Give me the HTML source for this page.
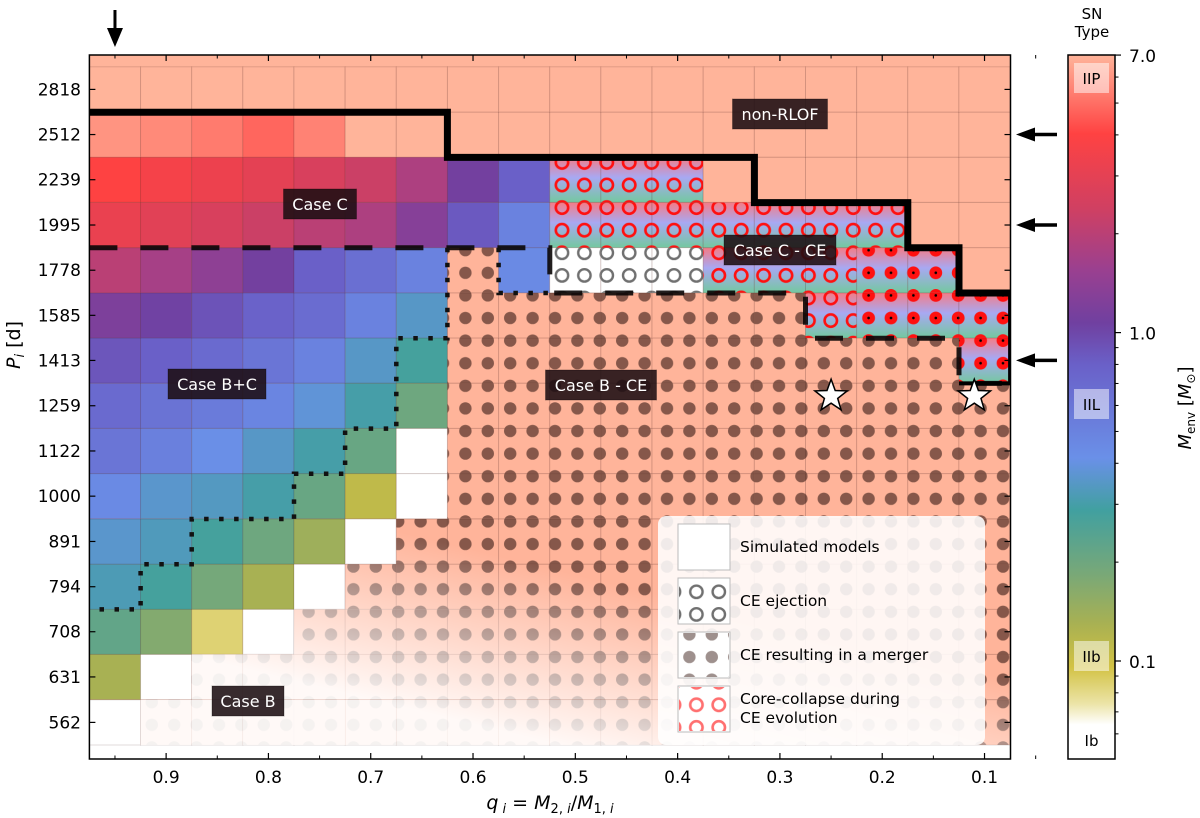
<!DOCTYPE html>
<html><head><meta charset="utf-8">
<style>
html,body{margin:0;padding:0;background:#fff;}
svg{display:block;font-family:"DejaVu Sans","Liberation Sans",sans-serif;}
</style></head>
<body>
<svg id="chart" width="1200" height="818" viewBox="0 0 1200 818" xmlns="http://www.w3.org/2000/svg">
<defs>
  <pattern id="dotsPat" patternUnits="userSpaceOnUse" x="543.8" y="306.7" width="22.4" height="22.6">
    <circle cx="11.2" cy="11.3" r="6.2" fill="rgba(60,30,25,0.62)"/>
  </pattern>
  <pattern id="redCircPat" patternUnits="userSpaceOnUse" x="550.8" y="173.7" width="22.4" height="22.6">
    <circle cx="11.2" cy="11.3" r="6.2" fill="none" stroke="#ff1010" stroke-width="2.6"/>
  </pattern>
  <pattern id="greyCircPat" patternUnits="userSpaceOnUse" x="550.8" y="173.7" width="22.4" height="22.6">
    <circle cx="11.2" cy="11.3" r="6.2" fill="none" stroke="#707070" stroke-width="2.4"/>
  </pattern>
  <pattern id="redDotPat" patternUnits="userSpaceOnUse" x="543.8" y="306.7" width="22.4" height="22.6">
    <circle cx="11.2" cy="11.3" r="6.4" fill="#ff1010"/>
    <circle cx="11.2" cy="11.3" r="1.3" fill="#000"/>
  </pattern>
  <linearGradient id="ceGrad" x1="0" y1="0" x2="0" y2="1">
    <stop offset="0" stop-color="#f47c86"/>
    <stop offset="0.45" stop-color="#a8a8f2"/>
    <stop offset="1" stop-color="#74c8a0"/>
  </linearGradient>
  <linearGradient id="fadeGrad" gradientUnits="userSpaceOnUse" x1="600" y1="580" x2="560" y2="745">
    <stop offset="0" stop-color="#fff" stop-opacity="0"/>
    <stop offset="1" stop-color="#fff" stop-opacity="0.92"/>
  </linearGradient>
  <linearGradient id="cbarGrad" gradientUnits="userSpaceOnUse" x1="0" y1="55" x2="0" y2="759"></linearGradient>
  <clipPath id="plotClip"><rect x="89.4" y="55" width="921.1" height="704"/></clipPath>
</defs>
<g id="plot" clip-path="url(#plotClip)"></g>
<g id="overlay"></g>
</svg>
<script>
// ---------- DATA ----------
const periods = [562, 631, 708, 794, 891, 1000, 1122, 1259, 1413, 1585, 1778, 1995, 2239, 2512, 2818];
const qVals = [0.95, 0.90, 0.85, 0.80, 0.75, 0.70, 0.65, 0.60, 0.55, 0.50, 0.45, 0.40, 0.35, 0.30, 0.25, 0.20, 0.15, 0.10];
const xTickLabels = ["0.9", "0.8", "0.7", "0.6", "0.5", "0.4", "0.3", "0.2", "0.1"];
// outcome per cell (row 0 = 562 d): c=coloured by M_env, n=non-RLOF, m=CE merger,
// e=CE ejection, r=core-collapse during CE, d=core-collapse during CE (merger)
const outcomes = [
  "cmmmmmmmmmmmmmmmmm",
  "ccmmmmmmmmmmmmmmmm",
  "ccccmmmmmmmmmmmmmm",
  "cccccmmmmmmmmmmmmm",
  "ccccccmmmmmmmmmmmm",
  "cccccccmmmmmmmmmmm",
  "cccccccmmmmmmmmmmm",
  "cccccccmmmmmmmmmmm",
  "cccccccmmmmmmmmmmd",
  "cccccccmmmmmmmrddd",
  "cccccccmceeerrrddn",
  "cccccccccrrrrrrrnn",
  "cccccccccrrrnnnnnn",
  "cccccccnnnnnnnnnnn",
  "nnnnnnnnnnnnnnnnnn"
];
// envelope mass [Msun] for coloured cells
const menv = [
  [0.05],
  [0.13, 0.05],
  [0.22, 0.17, 0.085, 0.05],
  [0.32, 0.28, 0.19, 0.13, 0.05],
  [0.36, 0.33, 0.28, 0.2, 0.14, 0.05],
  [0.45, 0.36, 0.34, 0.3, 0.21, 0.11, 0.05],
  [0.6, 0.52, 0.42, 0.35, 0.3, 0.21, 0.05],
  [0.7, 0.62, 0.55, 0.48, 0.38, 0.3, 0.2],
  [0.88, 0.8, 0.7, 0.6, 0.5, 0.35, 0.28],
  [1.2, 1.05, 0.9, 0.78, 0.68, 0.5, 0.35],
  [2.0, 1.7, 1.4, 1.1, 0.8, 0.65, 0.5, null, 0.45],
  [3.2, 2.9, 2.6, 2.3, 2.0, 1.8, 1.3, 0.85, 0.5],
  [4.0, 3.6, 3.3, 3.0, 2.6, 2.3, 1.8, 1.1, 0.8],
  [6.0, 5.7, 5.3, 4.8, 5.5, 7.0, 7.0],
  []
];
const salmonValue = 7.0;
const cmapValues = [0.05, 0.064, 0.074, 0.096, 0.129, 0.185, 0.288, 0.415, 0.80, 1.07, 1.55, 2.39, 4.03, 7.0];
const cmapColors = ["#ffffff", "#ffffff", "#ece4a8", "#d2c244", "#a9b152", "#78a878", "#41a0a0", "#6a90e8", "#6a60c8", "#7040a0", "#9a4090", "#d04062", "#ff4242", "#ffb49a"];
const cbarMajor = [0.1, 1.0, 7.0];
const cbarMajorLabels = ["0.1", "1.0", "7.0"];
const cbarMinor = [0.06, 0.07, 0.08, 0.09, 0.2, 0.3, 0.4, 0.5, 0.6, 0.7, 0.8, 0.9, 2, 3, 4, 5, 6];
const starPoints = [[0.25, 1290], [0.11, 1290]];
const arrowPeriods = [2512, 1995, 1413];
const arrowQ = 0.95;

// ---------- AXES ----------
const L = 89.4, R = 1010.5, T = 55, B = 759;
const lp0 = Math.log10(periods[0]);
function X(q) { return L + (0.975 - q) * 1023; }
function Y(p) { return 722.4 - 904 * (Math.log10(p) - lp0); }
function YL(lp) { return 722.4 - 904 * (lp - lp0); }
function colEdge(k) { return X(qVals[0] + 0.025 - 0.05 * k); }
function rowEdge(j) { return YL(lp0 - 0.025 + 0.05 * j); }
const cbL = 1068, cbR = 1115;
function YC(v) { return 661 - 328.4 * (Math.log10(v) + 1); }

function hex2rgb(h) { return [1,3,5].map(i => parseInt(h.substr(i,2),16)); }
function cmap(v) {
  const lv = Math.log10(v);
  if (v <= cmapValues[0]) return cmapColors[0];
  for (let i = 1; i < cmapValues.length; i++) {
    if (v <= cmapValues[i]) {
      const a = Math.log10(cmapValues[i-1]), b = Math.log10(cmapValues[i]);
      const t = (lv - a) / (b - a);
      const c1 = hex2rgb(cmapColors[i-1]), c2 = hex2rgb(cmapColors[i]);
      const c = c1.map((x, k) => Math.round(x + (c2[k] - x) * t));
      return "rgb(" + c.join(",") + ")";
    }
  }
  return cmapColors[cmapColors.length - 1];
}

const NS = "http://www.w3.org/2000/svg";
function mk(tag, attrs, parent) {
  const e = document.createElementNS(NS, tag);
  for (const k in attrs) e.setAttribute(k, attrs[k]);
  parent.appendChild(e);
  return e;
}
const svg = document.getElementById("chart");
const plot = document.getElementById("plot");
const over = document.getElementById("overlay");

// background (non-RLOF above grid)
const bg = mk("rect", {x: L, y: T, width: R - L, height: B - T, fill: cmap(salmonValue)}, plot);


mk("rect", {x: L, y: rowEdge(0), width: R - L, height: B - rowEdge(0), fill: "#fff"}, plot);

// cells
const fadeCells = [];
for (let r = 0; r < periods.length; r++) {
  const lp = Math.log10(periods[r]);
  for (let c = 0; c < qVals.length; c++) {
    const t = outcomes[r][c];
    const x0 = X(qVals[c] + 0.025), x1 = X(qVals[c] - 0.025);
    const y0 = YL(lp + 0.025), y1 = YL(lp - 0.025);
    let fill;
    if (t === 'c') fill = cmap(menv[r][c]);
    else if (t === 'e') fill = "#ffffff";
    else if (t === 'r' || t === 'd') fill = "url(#ceGrad)";
    else fill = cmap(salmonValue);
    const cell = mk("rect", {x: x0, y: y0, width: x1 - x0, height: y1 - y0, fill: fill, stroke: "rgba(70,30,30,0.16)", "stroke-width": 1}, plot);
    
    
    let pat = null;
    if (t === 'm') pat = "url(#dotsPat)";
    if (t === 'e') pat = "url(#greyCircPat)";
    if (t === 'r') pat = "url(#redCircPat)";
    if (t === 'd') pat = "url(#redDotPat)";
    if (pat) mk("rect", {x: x0, y: y0, width: x1 - x0, height: y1 - y0, fill: pat}, plot);
    if (t === 'm') fadeCells.push([x0, y0, x1 - x0, y1 - y0]);
  }
}
fadeCells.forEach(f => mk("rect", {x: f[0], y: f[1], width: f[2], height: f[3], fill: "url(#fadeGrad)"}, plot));

// boundaries (cell-edge index paths)
function edgePath(pts) {
  return pts.map((p, i) => (i ? "L" : "M") + colEdge(p[0]).toFixed(1) + " " + rowEdge(p[1]).toFixed(1)).join(" ");
}
const rlof = mk("path", {d: edgePath([[0,14],[7,14],[7,13],[13,13],[13,12],[16,12],[16,11],[17,11],[17,10],[18.2,10]]), fill: "none", stroke: "#000", "stroke-width": 7}, plot);


const dashed = mk("path", {d: edgePath([[0,11],[9,11],[9,10],[14,10],[14,9],[17,9],[17,8],[18.2,8]]), fill: "none", stroke: "rgba(10,5,5,0.9)", "stroke-width": 5, "stroke-dasharray": "28 23"}, plot);


mk("path", {d: edgePath([[17,10],[18,10],[18,8],[17,8]]), fill: "none", stroke: "#000", "stroke-width": 4}, plot);
const dotted1 = mk("path", {d: edgePath([[7,11],[7,9],[6,9],[6,7],[5,7],[5,6],[4,6],[4,5],[2,5],[2,4],[1,4],[1,3],[0,3]]), fill: "none", stroke: "#111", "stroke-width": 4.5, "stroke-dasharray": "4.5 10.5"}, plot);


mk("path", {d: edgePath([[8,11],[8,10],[9,10]]), fill: "none", stroke: "#111", "stroke-width": 4.5, "stroke-dasharray": "4.5 10.5"}, plot);

// stars
function starD(cx, cy, ro, ri) {
  let d = "";
  for (let i = 0; i < 10; i++) {
    const a = -Math.PI / 2 + i * Math.PI / 5, rr = i % 2 ? ri : ro;
    d += (i ? "L" : "M") + (cx + rr * Math.cos(a)).toFixed(1) + " " + (cy + rr * Math.sin(a)).toFixed(1);
  }
  return d + "Z";
}
starPoints.forEach((s, i) => {
  const st = mk("path", {d: starD(X(s[0]), Y(s[1]), 17, 7), fill: "#fff", stroke: "#000", "stroke-width": 1.5}, plot);
  
  
});

// region labels
function label(txt, cx, cy, w, name) {
  const g = mk("g", {}, plot);
  
  
  mk("rect", {x: cx - w / 2, y: cy - 15, width: w, height: 30, fill: "rgba(28,14,18,0.88)", stroke: "rgba(0,0,0,0.3)"}, g);
  const t = mk("text", {x: cx, y: cy + 6, "text-anchor": "middle", "font-size": 16, fill: "#fff"}, g);
  t.textContent = txt;
}
label("Case C", 320, 204, 73, "label-case-c");
label("Case B+C", 217, 384, 98, "label-case-b-plus-c");
label("Case B", 248, 701, 72, "label-case-b");
label("non-RLOF", 780, 114, 95, "label-non-rlof");
label("Case C - CE", 780, 250, 112, "label-case-c-ce");
label("Case B - CE", 601, 385, 111, "label-case-b-ce");

// legend
const lg = mk("g", {}, plot);


mk("rect", {x: 658, y: 516, width: 327, height: 229, rx: 8, fill: "rgba(255,255,255,0.88)"}, lg);
const legItems = [
  {fill: "#fff", pat: null, text: ["Simulated models"], y: 524, name: "legend-simulated-models"},
  {fill: "#fff", pat: "url(#greyCircPat)", text: ["CE ejection"], y: 578, name: "legend-ce-ejection"},
  {fill: "#fff", pat: "url(#dotsPat)", text: ["CE resulting in a merger"], y: 632, name: "legend-ce-merger"},
  {fill: "#fff", pat: "url(#redCircPat)", text: ["Core-collapse during", "CE evolution"], y: 686, name: "legend-core-collapse"}
];
legItems.forEach(it => {
  const g = mk("g", {}, lg);
  
  
  mk("rect", {x: 678, y: it.y, width: 52, height: 46, fill: it.fill, stroke: "#bbb", "stroke-width": 1}, g);
  if (it.pat) mk("rect", {x: 679, y: it.y + 1, width: 50, height: 44, fill: it.pat, opacity: it.pat.indexOf("red") > 0 ? 0.6 : (it.pat.indexOf("dots") > 0 ? 0.8 : 1)}, g);
  if (it.text.length === 1) {
    const t = mk("text", {x: 740, y: it.y + 28, "font-size": 15.5, fill: "#000"}, g);
    t.textContent = it.text[0];
  } else {
    it.text.forEach((s, i) => {
      const t = mk("text", {x: 740, y: it.y + 18 + i * 19, "font-size": 15.5, fill: "#000"}, g);
      t.textContent = s;
    });
  }
});

// frame and ticks
mk("rect", {x: L, y: T, width: R - L, height: B - T, fill: "none", stroke: "#000", "stroke-width": 1.5}, over);
const xt = mk("g", {}, over);


for (let i = 0; i < xTickLabels.length; i++) {
  const q = parseFloat(xTickLabels[i]), x = X(q);
  mk("line", {x1: x, y1: B, x2: x, y2: B - 6, stroke: "#000", "stroke-width": 1.2}, xt);
  mk("line", {x1: x, y1: T, x2: x, y2: T + 6, stroke: "#000", "stroke-width": 1.2}, xt);
  const t = mk("text", {x: x, y: 783, "text-anchor": "middle", "font-size": 17, fill: "#000"}, xt);
  t.textContent = xTickLabels[i];
}
for (let q = 0.95; q > 0.05; q -= 0.1) {
  const x = X(q);
  mk("line", {x1: x, y1: B, x2: x, y2: B - 3.5, stroke: "#000", "stroke-width": 1}, xt);
  mk("line", {x1: x, y1: T, x2: x, y2: T + 3.5, stroke: "#000", "stroke-width": 1}, xt);
}
const xl = mk("text", {x: 550, y: 809, "text-anchor": "middle", "font-size": 19, fill: "#000"}, over);


xl.innerHTML = '<tspan font-style="italic">q</tspan><tspan font-size="13" dy="4" font-style="italic"> i</tspan><tspan dy="-4"> = </tspan><tspan font-style="italic">M</tspan><tspan font-size="13" dy="4">2,</tspan><tspan font-size="13" font-style="italic"> i</tspan><tspan dy="-4">/</tspan><tspan font-style="italic">M</tspan><tspan font-size="13" dy="4">1,</tspan><tspan font-size="13" font-style="italic"> i</tspan>';

const yt = mk("g", {}, over);


periods.forEach(p => {
  const y = Y(p);
  mk("line", {x1: L, y1: y, x2: L + 6, y2: y, stroke: "#000", "stroke-width": 1.2}, yt);
  mk("line", {x1: R, y1: y, x2: R - 6, y2: y, stroke: "#000", "stroke-width": 1.2}, yt);
  const t = mk("text", {x: 81, y: y + 6, "text-anchor": "end", "font-size": 17, fill: "#000"}, yt);
  t.textContent = String(p);
});
const yl = mk("text", {x: 0, y: 0, transform: "translate(20,345) rotate(-90)", "text-anchor": "middle", "font-size": 19, fill: "#000"}, over);


yl.innerHTML = '<tspan font-style="italic">P</tspan><tspan font-size="13" dy="4" font-style="italic">i</tspan><tspan dy="-4"> [d]</tspan>';

// arrows
function arrowDown(x) {
  const g = mk("g", {}, over);
  
  
  mk("line", {x1: x, y1: 10, x2: x, y2: 32, stroke: "#000", "stroke-width": 3}, g);
  mk("path", {d: `M${x-8} 28 L${x+8} 28 L${x} 47 Z`, fill: "#000"}, g);
}
arrowDown(X(arrowQ));
arrowPeriods.forEach(p => {
  const y = Y(p);
  const g = mk("g", {}, over);
  
  
  mk("line", {x1: 1030, y1: y, x2: 1057, y2: y, stroke: "#000", "stroke-width": 3.5}, g);
  mk("path", {d: `M1016 ${y} L1035 ${y-7} L1035 ${y+7} Z`, fill: "#000"}, g);
});

// colorbar
const grad = document.getElementById("cbarGrad");
for (let i = cmapValues.length - 1; i >= 0; i--) {
  mk("stop", {offset: ((YC(cmapValues[i]) - 55) / (759 - 55)).toFixed(4), "stop-color": cmapColors[i]}, grad);
}
const cb = mk("g", {}, over);


mk("rect", {x: cbL, y: 55, width: cbR - cbL, height: 704, fill: "url(#cbarGrad)", stroke: "#000", "stroke-width": 1.5}, cb);
cbarMajor.forEach((v, i) => {
  const y = YC(v);
  mk("line", {x1: cbR, y1: y, x2: cbR + 6, y2: y, stroke: "#000", "stroke-width": 1.2}, cb);
  const t = mk("text", {x: 1129, y: y + 7, "font-size": 17, fill: "#000"}, cb);
  t.textContent = cbarMajorLabels[i];
});
cbarMinor.forEach(v => {
  const y = YC(v);
  mk("line", {x1: cbR, y1: y, x2: cbR + 3.5, y2: y, stroke: "#000", "stroke-width": 1}, cb);
});
function snBox(txt, cy, name, box) {
  const g = mk("g", {}, cb);
  
  
  if (box) mk("rect", {x: 1074, y: cy - 15, width: 35, height: 30, fill: "rgba(255,255,255,0.5)"}, g);
  const t = mk("text", {x: 1091.5, y: cy + 6, "text-anchor": "middle", "font-size": 15, fill: "#000"}, g);
  t.textContent = txt;
}
snBox("IIP", 78, "sn-type-iip", true);
snBox("IIL", 404, "sn-type-iil", true);
snBox("IIb", 656, "sn-type-iib", true);
snBox("Ib", 740, "sn-type-ib", false);
const snt1 = mk("text", {x: 1092, y: 19, "text-anchor": "middle", "font-size": 15, fill: "#000"}, over);
snt1.textContent = "SN";


const snt2 = mk("text", {x: 1092, y: 37, "text-anchor": "middle", "font-size": 15, fill: "#000"}, over);
snt2.textContent = "Type";
const cbl = mk("text", {x: 0, y: 0, transform: "translate(1191,408) rotate(-90)", "text-anchor": "middle", "font-size": 18, fill: "#000"}, over);


cbl.innerHTML = '<tspan font-style="italic">M</tspan><tspan font-size="12" dy="4">env</tspan><tspan dy="-4">  [</tspan><tspan font-style="italic">M</tspan><tspan font-size="12" dy="4">⊙</tspan><tspan dy="-4">]</tspan>';
</script>
</body></html>
